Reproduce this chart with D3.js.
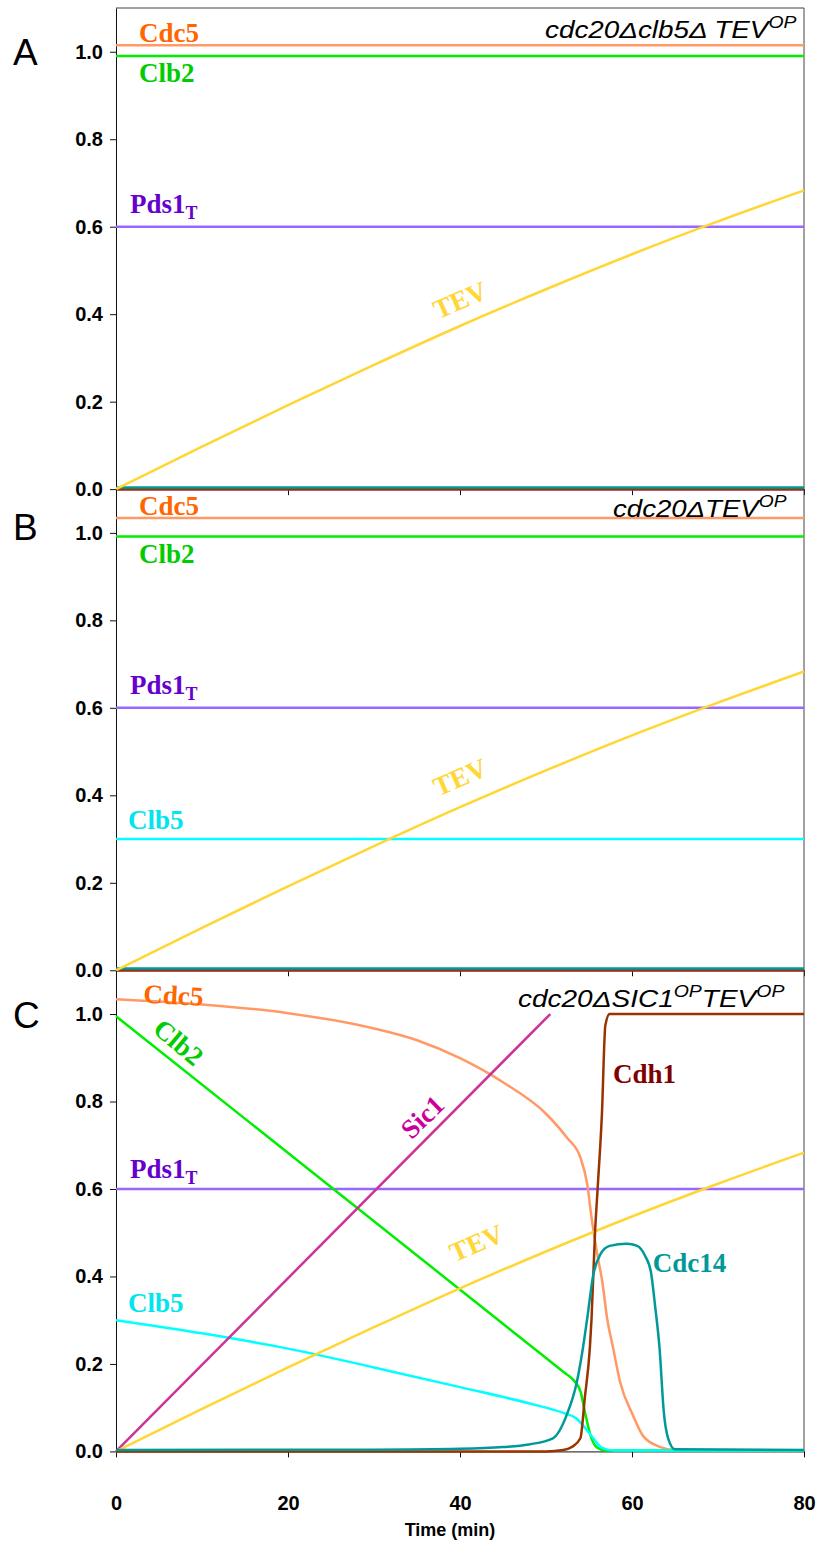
<!DOCTYPE html>
<html>
<head>
<meta charset="utf-8">
<script src="https://cdn.jsdelivr.net/npm/d3@7"></script>
<style>
  body { margin: 0; background: #fff; }
  .tick text { font-family: "Liberation Sans", Arial, sans-serif; font-weight: bold; font-size: 20px; fill: #000; }
  .tick line, .domain { stroke: #111; }
</style>
</head>
<body>
<div class="chart"></div>
<script>
var svgWidth = 817;
var svgHeight = 1542;

var margin = { top: 8, left: 116, right: 13 };
var width = svgWidth - margin.left - margin.right;
var unit = 437.4;           // pixels per 1.0 on the y axis
var yMax = 1.1;
var panelHeight = unit * yMax;

// axes
var xTicks = [0, 20, 40, 60, 80];
var yTicks = [0, 0.2, 0.4, 0.6, 0.8, 1.0];
var panelLetters = ["A", "B", "C"];

// series, [time (min), level]
var tevLevel = [[0, 0], [10, 0.097], [20, 0.192], [30, 0.284], [40, 0.373], [50, 0.457], [60, 0.537], [70, 0.612], [80, 0.683]];
var pds1Level = [[0, 0.6], [80, 0.6]];
var zeroLevel = [[0, 0], [80, 0]];
var cdc14Low = [[0, 0.004], [80, 0.004]];

// panel A: cdc20 clb5 TEV-OP
var cdc5A = [[0, 1.015], [80, 1.015]];
var clb2A = [[0, 0.99], [80, 0.99]];

// panel B: cdc20 TEV-OP
var cdc5B = [[0, 1.034], [80, 1.034]];
var clb2B = [[0, 0.992], [80, 0.992]];
var clb5B = [[0, 0.3], [80, 0.3]];

// panel C: cdc20 SIC1-OP TEV-OP
var cdc5C = [[0, 1.034], [10, 1.022], [20, 1.002], [30, 0.967], [35, 0.94], [40, 0.899], [45, 0.844], [50, 0.772],
  [52.4, 0.718], [54, 0.672], [54.8, 0.61], [55.3, 0.534], [55.9, 0.458], [56.6, 0.381], [57.1, 0.305],
  [57.8, 0.237], [58.6, 0.16], [60.1, 0.083], [61.3, 0.035], [63.3, 0.01], [65, 0.003], [80, 0.002]];
var clb2C = [[0, 0.995], [48.5, 0.237], [52, 0.182], [53.2, 0.163], [54, 0.138], [54.6, 0.083], [55.2, 0.035],
  [56, 0.008], [57, 0.002], [80, 0.002]];
var clb5C = [[0, 0.3], [10, 0.27], [20, 0.235], [30, 0.192], [40, 0.147], [48, 0.11], [52, 0.088], [53.5, 0.076],
  [54.5, 0.055], [55.5, 0.03], [56.5, 0.008], [58, 0.002], [80, 0.002]];
var sic1C = [[0, 0], [50.5, 1.0]];
var cdh1C = [[0, 0], [50, 0], [52, 0.003], [53, 0.01], [54, 0.03], [54.5, 0.12], [55.1, 0.237], [55.3, 0.305],
  [55.7, 0.5], [56, 0.6], [56.5, 0.77], [56.9, 0.974], [57.4, 1.0], [80, 1.0]];
var cdc14C = [[0, 0.003], [30, 0.004], [40, 0.006], [45, 0.01], [48, 0.016], [50.8, 0.03], [52.4, 0.083],
  [53.6, 0.16], [54.3, 0.237], [54.8, 0.305], [55.5, 0.404], [56.3, 0.45], [57.4, 0.47], [59.4, 0.475],
  [60.6, 0.47], [61.5, 0.448], [62.2, 0.41], [62.7, 0.33], [63.2, 0.237], [63.7, 0.09], [64.2, 0.03],
  [65, 0.005], [80, 0.003]];

var colors = {
  cdc5: "#ff9966", clb2: "#00ee00", pds1: "#9966ff", tev: "#ffd633",
  clb5: "#00ffff", sic1: "#cc3399", cdh1: "#993300", cdc14: "#009999"
};
var labelColors = {
  cdc5: "#ff6600", clb2: "#00cc00", pds1: "#6600cc", tev: "#ffd633",
  clb5: "#00e5ee", sic1: "#cc0099", cdh1: "#800000", cdc14: "#009999"
};

var svg = d3.select(".chart")
  .append("svg")
  .attr("width", svgWidth)
  .attr("height", svgHeight);

var xScale = d3.scaleLinear().domain([0, 80]).range([0, width]);
var yScale = d3.scaleLinear().domain([0, yMax]).range([panelHeight, 0]);

var line = d3.line()
  .x(d => xScale(d[0]))
  .y(d => yScale(d[1]))
  .curve(d3.curveMonotoneX);

var panels = [
  {
    title: [["cdc20\u0394clb5\u0394 TEV", false], ["OP", true]],
    titleBox: [545, 797, 38],
    series: [
      [zeroLevel, colors.sic1], [zeroLevel, colors.cdh1], [cdc14Low, colors.cdc14],
      [pds1Level, colors.pds1], [cdc5A, colors.cdc5], [clb2A, colors.clb2], [tevLevel, colors.tev]
    ],
    labels: [
      { text: "Cdc5", key: "cdc5", t: 2.67, v: 1.022 },
      { text: "Clb2", key: "clb2", t: 2.67, v: 0.931 },
      { text: "Pds1", sub: "T", key: "pds1", t: 1.63, v: 0.632 },
      { text: "TEV", key: "tev", t: 40, v: 0.433, rot: -23.4, mid: true }
    ],
    letterY: 65
  },
  {
    title: [["cdc20\u0394TEV", false], ["OP", true]],
    titleBox: [613, 787, 517],
    series: [
      [zeroLevel, colors.sic1], [zeroLevel, colors.cdh1], [cdc14Low, colors.cdc14],
      [pds1Level, colors.pds1], [clb5B, colors.clb5], [cdc5B, colors.cdc5], [clb2B, colors.clb2], [tevLevel, colors.tev]
    ],
    labels: [
      { text: "Cdc5", key: "cdc5", t: 2.67, v: 1.041 },
      { text: "Clb2", key: "clb2", t: 2.67, v: 0.932 },
      { text: "Pds1", sub: "T", key: "pds1", t: 1.63, v: 0.632 },
      { text: "TEV", key: "tev", t: 40, v: 0.442, rot: -23.4, mid: true },
      { text: "Clb5", key: "clb5", t: 1.4, v: 0.323 }
    ],
    letterY: 540
  },
  {
    title: [["cdc20\u0394SIC1", false], ["OP", true], ["TEV", false], ["OP", true]],
    titleBox: [518, 785, 1007],
    series: [
      [pds1Level, colors.pds1], [cdc5C, colors.cdc5], [clb2C, colors.clb2], [clb5C, colors.clb5],
      [sic1C, colors.sic1], [tevLevel, colors.tev], [cdh1C, colors.cdh1], [cdc14C, colors.cdc14]
    ],
    labels: [
      { text: "Cdc5", key: "cdc5", t: 3.14, v: 1.026, rot: 3 },
      { text: "Clb2", key: "clb2", t: 7.3, v: 0.936, rot: 40, mid: true },
      { text: "Sic1", key: "sic1", t: 35.6, v: 0.765, rot: -44, mid: true },
      { text: "Pds1", sub: "T", key: "pds1", t: 1.63, v: 0.626 },
      { text: "TEV", key: "tev", t: 41.9, v: 0.477, rot: -23.4, mid: true },
      { text: "Clb5", key: "clb5", t: 1.4, v: 0.319 },
      { text: "Cdh1", key: "cdh1", t: 57.8, v: 0.843 },
      { text: "Cdc14", key: "cdc14", t: 62.4, v: 0.411 }
    ],
    letterY: 1028
  }
];

panels.forEach(function(p, i) {
  var top = margin.top + i * panelHeight;
  var g = svg.append("g")
    .attr("transform", `translate(${margin.left}, ${top})`);

  // frame: top and right edges
  if (i === 0) {
    g.append("line")
      .attr("x1", 0).attr("x2", width).attr("y1", 0).attr("y2", 0)
      .attr("stroke", "#444");
  }
  g.append("line")
    .attr("x1", width).attr("x2", width).attr("y1", 0).attr("y2", panelHeight)
    .attr("stroke", "#444");

  var bottomAxis = d3.axisBottom(xScale)
    .tickValues(xTicks)
    .tickSize(6)
    .tickSizeOuter(0)
    .tickPadding(38);
  if (i < 2) bottomAxis.tickFormat("");

  var leftAxis = d3.axisLeft(yScale)
    .tickValues(yTicks)
    .tickSize(6)
    .tickSizeOuter(0)
    .tickPadding(7)
    .tickFormat(d3.format(".1f"));

  g.append("g")
    .attr("transform", `translate(0, ${panelHeight})`)
    .call(bottomAxis);
  g.append("g")
    .call(leftAxis);

  // curves
  p.series.forEach(function(s) {
    g.append("path")
      .datum(s[0])
      .attr("d", line)
      .attr("fill", "none")
      .attr("stroke", s[1])
      .attr("stroke-width", 2.5);
  });

  // species labels
  p.labels.forEach(function(l) {
    var lx = xScale(l.t), ly = yScale(l.v);
    var txt = g.append("text")
      .attr("transform", `translate(${lx}, ${ly}) rotate(${l.rot || 0})`)
      .attr("text-anchor", l.mid ? "middle" : "start")
      .attr("dy", l.mid ? "0.35em" : 0)
      .attr("font-family", "'Liberation Serif', 'Times New Roman', serif")
      .attr("font-weight", "bold")
      .attr("font-size", 27)
      .attr("fill", labelColors[l.key])
      .text(l.text);
    if (l.sub) {
      txt.append("tspan")
        .attr("font-size", 18)
        .attr("dy", 6)
        .text(l.sub);
    }
  });

  // panel title, italic, stretched to the box it takes in the figure
  var title = svg.append("text")
    .attr("font-family", "'Liberation Sans', Arial, sans-serif")
    .attr("font-style", "italic")
    .attr("font-size", 23)
    .attr("fill", "#000");
  var raised = false;
  p.title.forEach(function(part) {
    var ts = title.append("tspan").text(part[0]);
    if (part[1]) {
      ts.attr("font-size", 16).attr("dy", -10);
      raised = true;
    } else if (raised) {
      ts.attr("dy", 10);
      raised = false;
    }
  });
  var w = title.node().getBBox().width;
  var box = p.titleBox;
  title.attr("transform", `translate(${box[0]}, ${box[2]}) scale(${(box[1] - box[0]) / w}, 1)`);

  // panel letter
  svg.append("text")
    .attr("x", 13)
    .attr("y", p.letterY)
    .attr("font-family", "'Liberation Sans', Arial, sans-serif")
    .attr("font-size", 37)
    .text(panelLetters[i]);
});

// x axis title
svg.append("text")
  .attr("x", margin.left + width / 2 - 10)
  .attr("y", margin.top + 3 * panelHeight + 85)
  .attr("text-anchor", "middle")
  .attr("font-family", "'Liberation Sans', Arial, sans-serif")
  .attr("font-weight", "bold")
  .attr("font-size", 18)
  .text("Time (min)");
</script>
</body>
</html>
